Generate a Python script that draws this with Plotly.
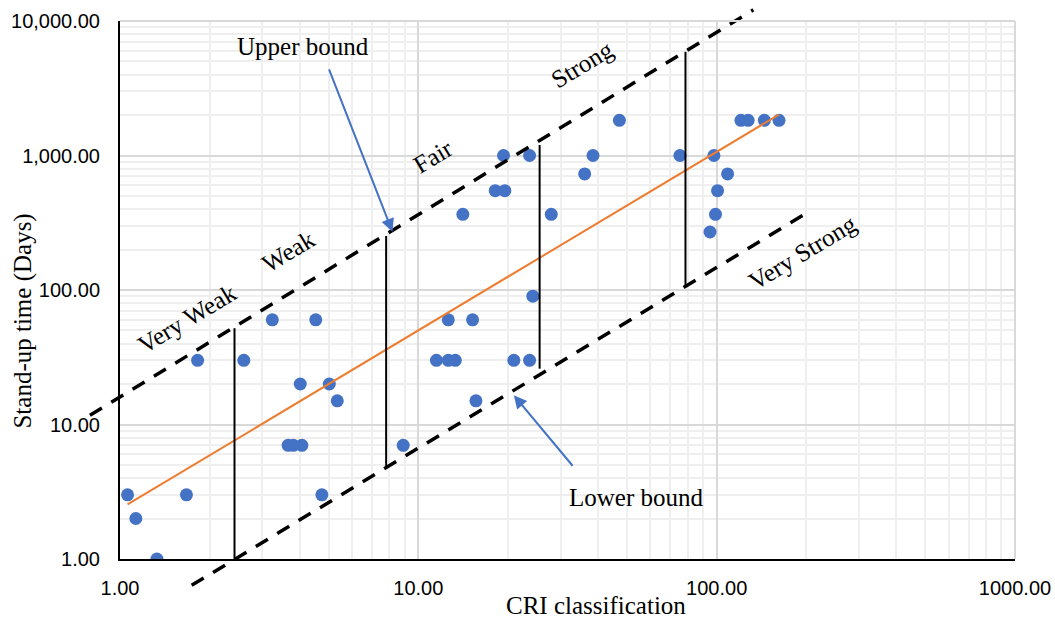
import numpy as np
import plotly.graph_objects as go

# --- measured samples: CRI rating vs. stand-up time (days) ---
cri = [1.06, 1.13, 1.33, 1.67, 1.82, 2.6, 3.24, 4.53, 4.02, 5.03, 5.35, 3.66, 3.81, 4.07, 4.75, 8.9,
       12.6, 15.2, 11.5, 12.6, 13.3, 20.9, 23.6, 15.6, 14.1, 27.9, 18.1, 19.5, 19.3, 23.6, 24.2,
       38.5, 36.1, 47.2, 75.3, 97.9, 108.8, 100.7, 99.1, 95.0, 120.6, 127.5, 144.5, 161.8]
standup_days = [3, 2, 1, 3, 30, 30, 60, 60, 20, 20, 15, 7, 7, 7, 3, 7,
                60, 60, 30, 30, 30, 30, 30, 15, 365, 365, 548, 548, 1000, 1000, 90,
                1000, 730, 1825, 1000, 1000, 730, 548, 365, 270, 1825, 1825, 1825, 1825]

# --- class boundaries (vertical separators between bounds) ---
boundary_cri = [2.42, 7.8, 25.5, 78.6]
boundary_low_days = [1.0, 4.8, 26.0, 109.0]
boundary_high_days = [52.0, 252.0, 1197.0, 5900.0]

# --- upper / lower bound lines (end points) ---
upper_bound_cri = [0.793, 132.7]
upper_bound_days = [11.7, 12100.0]
lower_bound_cri = [1.739, 206.0]
lower_bound_days = [0.637, 388.0]

# --- class labels ---
class_names = ["Very Weak", "Weak", "Fair", "Strong", "Very Strong"]
class_label_cri = [1.68, 3.66, 11.2, 35.4, 193.6]
class_label_days = [61.8, 194.5, 975.0, 4710.0, 191.4]

# --- axis ticks ---
x_tickvals = [1, 10, 100, 1000]
x_ticktext = ["1.00", "10.00", "100.00", "1000.00"]
y_tickvals = [1, 10, 100, 1000, 10000]
y_ticktext = ["1.00", "10.00", "100.00", "1,000.00", "10,000.00"]

X_LOG_RANGE = [0, 3]
Y_LOG_RANGE = [0, 4]

BLUE = "#4472C4"
ORANGE = "#ED7D31"
SERIF = "Liberation Serif"


def to_paper(x, y):
    """Map data values on the log axes to paper coordinates."""
    px = (np.log10(x) - X_LOG_RANGE[0]) / (X_LOG_RANGE[1] - X_LOG_RANGE[0])
    py = (np.log10(y) - Y_LOG_RANGE[0]) / (Y_LOG_RANGE[1] - Y_LOG_RANGE[0])
    return float(px), float(py)


fig = go.Figure()

# data points
fig.add_trace(go.Scatter(
    x=cri, y=standup_days, mode="markers",
    marker=dict(color=BLUE, size=13, line=dict(width=0)),
    hoverinfo="x+y",
))

# power trendline (least squares in log-log space)
slope, intercept = np.polyfit(np.log10(cri), np.log10(standup_days), 1)
trend_x = np.array([min(cri), max(cri)])
trend_y = 10 ** (intercept + slope * np.log10(trend_x))
fig.add_trace(go.Scatter(
    x=trend_x, y=trend_y, mode="lines",
    line=dict(color=ORANGE, width=2),
    hoverinfo="skip",
))

# vertical separators between classes
for bx, lo, hi in zip(boundary_cri, boundary_low_days, boundary_high_days):
    fig.add_trace(go.Scatter(
        x=[bx, bx], y=[lo, hi], mode="lines",
        line=dict(color="black", width=2),
        hoverinfo="skip",
    ))

shapes = []
# dashed bound lines (may run past the plotting area)
for bx, by in ((upper_bound_cri, upper_bound_days), (lower_bound_cri, lower_bound_days)):
    x0, y0 = to_paper(bx[0], by[0])
    x1, y1 = to_paper(bx[1], by[1])
    shapes.append(dict(
        type="line", xref="paper", yref="paper", x0=x0, y0=y0, x1=x1, y1=y1,
        line=dict(color="black", width=3.5, dash="14px,11px"), layer="above",
    ))
# light frame on top and right
shapes.append(dict(type="line", xref="paper", yref="paper", x0=0, y0=1, x1=1, y1=1,
                   line=dict(color="#d9d9d9", width=2), layer="above"))
shapes.append(dict(type="line", xref="paper", yref="paper", x0=1, y0=0, x1=1, y1=1,
                   line=dict(color="#d9d9d9", width=2), layer="above"))

annotations = []
for name, lx, ly in zip(class_names, class_label_cri, class_label_days):
    annotations.append(dict(
        x=np.log10(lx), y=np.log10(ly), xref="x", yref="y", text=name,
        showarrow=False, textangle=-31, xanchor="center", yanchor="middle",
        font=dict(family=SERIF, size=25, color="black"),
    ))

annotations += [
    dict(x=np.log10(4.11), y=np.log10(6415), xref="x", yref="y", text="Upper bound",
         showarrow=False, xanchor="center", yanchor="middle",
         font=dict(family=SERIF, size=25, color="black")),
    dict(x=np.log10(53.7), y=np.log10(2.88), xref="x", yref="y", text="Lower bound",
         showarrow=False, xanchor="center", yanchor="middle",
         font=dict(family=SERIF, size=25, color="black")),
    dict(x=np.log10(8.19), y=np.log10(271), xref="x", yref="y", text="",
         showarrow=True, ax=-64, ay=-164, arrowhead=2, arrowsize=1.3, arrowwidth=2,
         arrowcolor=BLUE, standoff=0),
    dict(x=np.log10(20.9), y=np.log10(16.5), xref="x", yref="y", text="",
         showarrow=True, ax=60, ay=72, arrowhead=2, arrowsize=1.3, arrowwidth=2,
         arrowcolor=BLUE, standoff=0),
    dict(x=0.532, y=-0.086, xref="paper", yref="paper", text="CRI classification",
         showarrow=False, xanchor="center", yanchor="middle",
         font=dict(family=SERIF, size=25, color="black")),
    dict(x=-0.108, y=0.442, xref="paper", yref="paper", text="Stand-up time (Days)",
         showarrow=False, textangle=-90, xanchor="center", yanchor="middle",
         font=dict(family=SERIF, size=25, color="black")),
]

axis_common = dict(
    type="log", showline=True, linecolor="black", linewidth=2,
    showgrid=True, gridcolor="#d9d9d9", gridwidth=1.5,
    ticks="", zeroline=False, tickmode="array",
    tickfont=dict(family="Liberation Sans", size=20, color="black"),
    minor=dict(dtick="D1", showgrid=True, gridcolor="#efefef", gridwidth=1.5, ticks=""),
)

fig.update_layout(
    width=1055, height=620,
    margin=dict(l=120, r=40, t=21, b=61, autoexpand=False),
    paper_bgcolor="white", plot_bgcolor="white",
    showlegend=False,
    xaxis=dict(range=X_LOG_RANGE, tickvals=x_tickvals, ticktext=x_ticktext,
               ticklabelstandoff=10, automargin=False, **axis_common),
    yaxis=dict(range=Y_LOG_RANGE, tickvals=y_tickvals, ticktext=y_ticktext,
               ticklabelstandoff=14, automargin=False, **axis_common),
    shapes=shapes,
    annotations=annotations,
)

fig.write_html("out.html")
